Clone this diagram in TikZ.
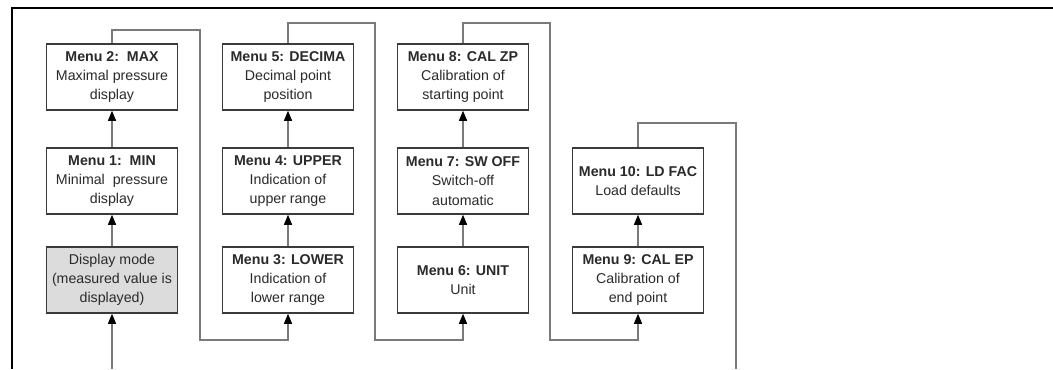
\documentclass[tikz,border=0pt]{standalone}
\usepackage{fontspec}
\setmainfont{Liberation Sans}
\usetikzlibrary{arrows.meta}
\tikzset{>={Triangle[width=4pt,length=5pt,black]}}
\definecolor{boxline}{HTML}{3A3A3A}
\definecolor{linkgray}{HTML}{7A7A7A}
\definecolor{modefill}{HTML}{DCDCDC}
\definecolor{txt}{HTML}{2A2A2A}

\begin{document}
\begin{tikzpicture}[x=0.5pt, y=-0.5pt,
                    line cap=butt, line join=miter,
                    menu/.style={draw=boxline, line width=0.75pt, fill=white,
                                 minimum width=65.5pt, minimum height=33pt,
                                 inner sep=0pt, align=center, text=txt,
                                 font=\fontsize{7.1}{9.6}\selectfont},
                    link/.style={draw=linkgray, line width=0.6pt},
                    flow/.style={link,->}]
  \useasboundingbox (0,0) rectangle (1053,369);
  \def\rowA{77}
  \def\rowB{181}
  \def\rowC{280}

  % outer frame (top and left edge only)
  \draw[black, line width=0.8pt] (1053,8) -- (12,8) -- (12,369);

  % column 1
  \node[menu, fill=modefill] (disp) at (112,\rowC)
    {Display mode\\(measured value is\\displayed)};
  \node[menu] (m1) at (112,\rowB) {\textbf{Menu 1:\ \ MIN}\\Minimal\ \ pressure\\display};
  \node[menu] (m2) at (112,\rowA) {\textbf{Menu 2:\ \ MAX}\\Maximal pressure\\display};

  % column 2
  \node[menu] (m3) at (288,\rowC) {\textbf{Menu 3: LOWER}\\Indication of\\lower range};
  \node[menu] (m4) at (288,\rowB) {\textbf{Menu 4: UPPER}\\Indication of\\upper range};
  \node[menu] (m5) at (288,\rowA) {\textbf{Menu 5: DECIMA}\\Decimal point\\position};

  % column 3
  \node[menu] (m6) at (463,\rowC) {\textbf{Menu 6: UNIT}\\Unit};
  \node[menu] (m7) at (463,\rowB) {\textbf{Menu 7: SW OFF}\\Switch-off\\automatic};
  \node[menu] (m8) at (463,\rowA) {\textbf{Menu 8: CAL ZP}\\Calibration of\\starting point};

  % column 4
  \node[menu] (m9) at (638,\rowC) {\textbf{Menu 9: CAL EP}\\Calibration of\\end point};
  \node[menu] (m10) at (638,\rowB) {\textbf{Menu 10: LD FAC}\\Load defaults};

  % entry and exit
  \coordinate (entry) at (112,369);
  \coordinate (exit) at (736,369);

  % arrows inside the columns
  \draw[flow] (entry) -- (disp.south);
  \draw[flow] (disp) -- (m1);
  \draw[flow] (m1) -- (m2);
  \draw[flow] (m3) -- (m4);
  \draw[flow] (m4) -- (m5);
  \draw[flow] (m6) -- (m7);
  \draw[flow] (m7) -- (m8);
  \draw[flow] (m9) -- (m10);

  % links between the columns
  \draw[flow] (m2.north) |- (200,30) |- (288,340) -- (m3.south);
  \draw[flow] (m5.north) |- (375,23) |- (463,340) -- (m6.south);
  \draw[flow] (m8.north) |- (550,23) |- (638,340) -- (m9.south);
  \draw[link] (m10.north) |- (736,123) -- (exit);
\end{tikzpicture}
\end{document}
